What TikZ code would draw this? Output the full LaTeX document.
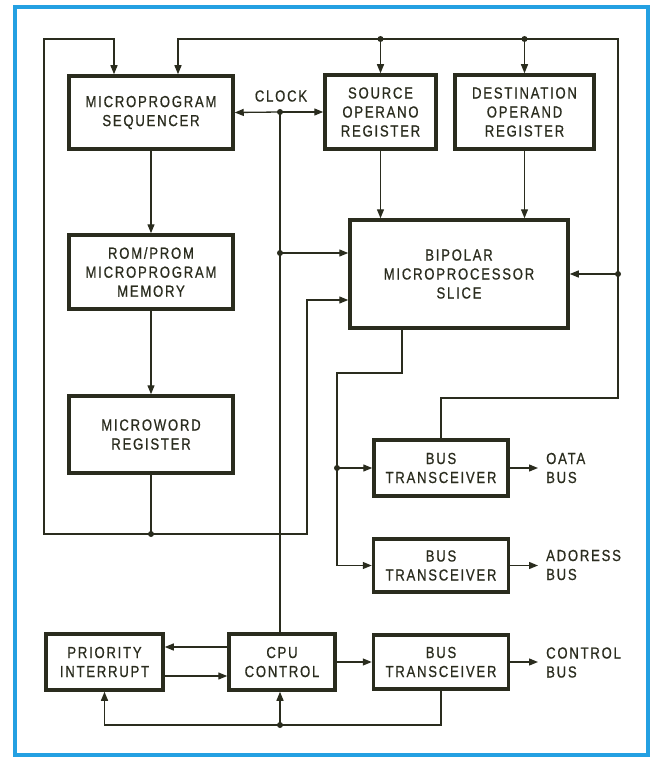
\documentclass[tikz,border=0pt]{standalone}
\usepackage{fontspec}
\setmainfont{Liberation Sans}[FakeStretch=0.82,LetterSpace=11,FakeBold=0.7]
\usetikzlibrary{arrows.meta}
\definecolor{ink}{RGB}{42,44,30}
\definecolor{frameblue}{RGB}{36,160,226}
\tikzset{
  box/.style={draw=ink,line width=3.5pt,fill=white,align=center,text=ink,inner sep=0pt,font=\fontsize{16}{19}\selectfont},
  wire/.style={draw=ink,line width=1.3pt},
  arr/.style={wire,-{Triangle[length=9pt,width=7pt]}},
  lbl/.style={text=ink,align=left,inner sep=0pt,font=\fontsize{16}{19}\selectfont},
}
\begin{document}
\begin{tikzpicture}[x=1pt,y=-1pt]
  \useasboundingbox (0,0) rectangle (654,757);
  \draw[frameblue,line width=4pt] (15,7) rectangle (648,755);

  \node[box,minimum width=164pt,minimum height=73pt] (seq) at (151,112.5) {MICROPROGRAM\\SEQUENCER};
  \node[box,minimum width=164pt,minimum height=74pt] (rom) at (151,272) {ROM/PROM\\MICROPROGRAM\\MEMORY};
  \node[box,minimum width=164pt,minimum height=77pt] (mword) at (151,434.5) {MICROWORD\\REGISTER};
  \node[box,minimum width=111pt,minimum height=74pt] (src) at (380.5,112) {SOURCE\\OPERANO\\REGISTER};
  \node[box,minimum width=139pt,minimum height=74pt] (dst) at (524.5,112) {DESTINATION\\OPERAND\\REGISTER};
  \node[box,minimum width=218pt,minimum height=108pt] (slice) at (459,274) {BIPOLAR\\MICROPROCESSOR\\SLICE};
  \node[box,minimum width=134pt,minimum height=56pt] (bt1) at (441,468) {BUS\\TRANSCEIVER};
  \node[box,minimum width=135pt,minimum height=53pt] (bt2) at (441,565.5) {BUS\\TRANSCEIVER};
  \node[box,minimum width=135pt,minimum height=54pt] (bt3) at (441,662) {BUS\\TRANSCEIVER};
  \node[box,minimum width=117pt,minimum height=56pt] (pri) at (104.5,662) {PRIORITY\\INTERRUPT};
  \node[box,minimum width=106pt,minimum height=56pt] (cpu) at (282,662) {CPU\\CONTROL};

  \node[lbl] (clock) at (281,96) {CLOCK};
  \node[lbl,anchor=west] (dbus) at (546,468) {OATA\\BUS};
  \node[lbl,anchor=west] (abus) at (546,565) {ADORESS\\BUS};
  \node[lbl,anchor=west] (cbus) at (546,662.5) {CONTROL\\BUS};

  \coordinate (lbot) at (151,534);
  \coordinate (loopL) at (44,534);
  \coordinate (loopT) at (44,39);
  \coordinate (loopR) at (307,534);
  \coordinate (clk) at (280,112);
  \coordinate (clk2) at (280,253);
  \coordinate (tL) at (178,39);
  \coordinate (tA) at (380.5,39);
  \coordinate (tB) at (524.5,39);
  \coordinate (tR) at (618,39);
  \coordinate (rdot) at (618,274);
  \coordinate (rbend) at (618,398);
  \coordinate (sbend) at (337,373);
  \coordinate (bdot) at (337,468);
  \coordinate (cdot) at (280,725);

  \draw[arr] (seq) -- (rom);
  \draw[arr] (rom) -- (mword);
  \draw[wire] (mword.south) -- (lbot);
  \draw[arr] (lbot) -- (loopL) -- (loopT) -| ([xshift=-37pt]seq.north);
  \draw[arr] (lbot) -- (loopR) |- ([yshift=-26pt]slice.west);

  \draw[arr] (clk) -- (seq.east);
  \draw[arr] (clk) -- (src.west);
  \draw[wire] (clk) -- (clk2);
  \draw[arr] (clk2) -- (clk2 -| slice.west);
  \draw[wire] (clk2) -- (clk2 |- cpu.north);

  \draw[arr] (rdot) -- (tR) -- (tL) -- ([xshift=27pt]seq.north);
  \draw[arr] (tA) -- (src.north);
  \draw[arr] (tB) -- (dst.north);
  \draw[arr] (rdot) -- (slice.east);
  \draw[wire] (rdot) -- (rbend) -| (bt1.north);
  \draw[arr] (src.south) -- (src.south |- slice.north);
  \draw[arr] (dst.south) -- (dst.south |- slice.north);

  \draw[wire] ([xshift=-57pt]slice.south) |- (sbend) -- (bdot);
  \draw[arr] (bdot) -- (bt1.west);
  \draw[arr] (bdot) |- (bt2.west);
  \draw[arr,shorten >=8pt] (bt1.east) -- (dbus.west);
  \draw[arr,shorten >=8pt] (bt2.east) -- (bt2.east -| abus.west);
  \draw[arr,shorten >=8pt] (bt3.east) -- (bt3.east -| cbus.west);

  \draw[arr] (cpu.east) -- (bt3.west);
  \draw[arr] ([yshift=15pt]cpu.west) -- ([yshift=15pt]pri.east);
  \draw[arr] ([yshift=-14pt]pri.east) -- ([yshift=-14pt]cpu.west);
  \draw[wire] (bt3.south) |- (cdot);
  \draw[arr] (cdot) -- (cdot |- cpu.south);
  \draw[arr] (cdot) -| (pri.south);

  \foreach \p in {lbot,clk,clk2,tA,tB,rdot,bdot,cdot}
    \fill[ink] (\p) circle (3pt);
\end{tikzpicture}
\end{document}
